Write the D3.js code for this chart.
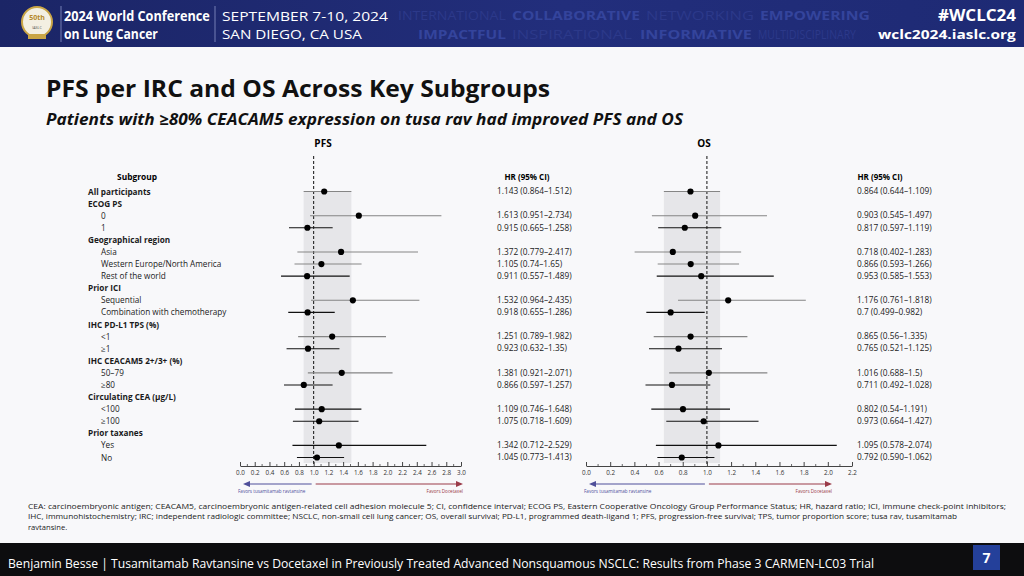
<!DOCTYPE html>
<html>
<head>
<meta charset="utf-8">
<script src="https://cdn.jsdelivr.net/npm/d3@7"></script>
<style>
  html, body { margin: 0; padding: 0; background: #f8f8fa; }
  svg { display: block; }
</style>
</head>
<body>
<div id="slide"></div>
<script>
// subgroup rows, top to bottom (level 0 = bold heading)
const rowLabels = ["All participants", "ECOG PS", "0", "1", "Geographical region", "Asia",
  "Western Europe/North America", "Rest of the world", "Prior ICI", "Sequential",
  "Combination with chemotherapy", "IHC PD-L1 TPS (%)", "<1", "≥1", "IHC CEACAM5 2+/3+ (%)",
  "50–79", "≥80", "Circulating CEA (μg/L)", "<100", "≥100", "Prior taxanes", "Yes", "No"];
const rowLevel = [0, 0, 1, 1, 0, 1, 1, 1, 0, 1, 1, 0, 1, 1, 0, 1, 1, 0, 1, 1, 0, 1, 1];
// lighter whisker rows in the picture
const rowTone = ["g", "", "g", "k", "", "g", "g", "k", "", "g", "k", "", "g", "k", "", "g", "k", "", "k", "k", "", "k", "k"];

// PFS per IRC
const pfsHR = [1.143, null, 1.613, 0.915, null, 1.372, 1.105, 0.911, null, 1.532, 0.918, null, 1.251, 0.923, null, 1.381, 0.866, null, 1.109, 1.075, null, 1.342, 1.045];
const pfsLo = [0.864, null, 0.951, 0.665, null, 0.779, 0.74, 0.557, null, 0.964, 0.655, null, 0.789, 0.632, null, 0.921, 0.597, null, 0.746, 0.718, null, 0.712, 0.773];
const pfsHi = [1.512, null, 2.734, 1.258, null, 2.417, 1.65, 1.489, null, 2.435, 1.286, null, 1.982, 1.35, null, 2.071, 1.257, null, 1.648, 1.609, null, 2.529, 1.413];
const pfsText = ["1.143 (0.864–1.512)", "", "1.613 (0.951–2.734)", "0.915 (0.665–1.258)", "",
  "1.372 (0.779–2.417)", "1.105 (0.74–1.65)", "0.911 (0.557–1.489)", "", "1.532 (0.964–2.435)",
  "0.918 (0.655–1.286)", "", "1.251 (0.789–1.982)", "0.923 (0.632–1.35)", "", "1.381 (0.921–2.071)",
  "0.866 (0.597–1.257)", "", "1.109 (0.746–1.648)", "1.075 (0.718–1.609)", "", "1.342 (0.712–2.529)",
  "1.045 (0.773–1.413)"];

// OS
const osHR = [0.864, null, 0.903, 0.817, null, 0.718, 0.866, 0.953, null, 1.176, 0.7, null, 0.865, 0.765, null, 1.016, 0.711, null, 0.802, 0.973, null, 1.095, 0.792];
const osLo = [0.644, null, 0.545, 0.597, null, 0.402, 0.593, 0.585, null, 0.761, 0.499, null, 0.56, 0.521, null, 0.688, 0.492, null, 0.54, 0.664, null, 0.578, 0.590];
const osHi = [1.109, null, 1.497, 1.119, null, 1.283, 1.266, 1.553, null, 1.818, 0.982, null, 1.335, 1.125, null, 1.5, 1.028, null, 1.191, 1.427, null, 2.074, 1.062];
const osText = ["0.864 (0.644–1.109)", "", "0.903 (0.545–1.497)", "0.817 (0.597–1.119)", "",
  "0.718 (0.402–1.283)", "0.866 (0.593–1.266)", "0.953 (0.585–1.553)", "", "1.176 (0.761–1.818)",
  "0.7 (0.499–0.982)", "", "0.865 (0.56–1.335)", "0.765 (0.521–1.125)", "", "1.016 (0.688–1.5)",
  "0.711 (0.492–1.028)", "", "0.802 (0.54–1.191)", "0.973 (0.664–1.427)", "", "1.095 (0.578–2.074)",
  "0.792 (0.590–1.062)"];

const pfsTicks = d3.range(0, 3.01, 0.2);
const osTicks = d3.range(0, 2.21, 0.2);

const footnote = [
  "CEA: carcinoembryonic antigen; CEACAM5, carcinoembryonic antigen-related cell adhesion molecule 5; CI, confidence interval; ECOG PS, Eastern Cooperative Oncology Group Performance Status; HR, hazard ratio; ICI, immune check-point inhibitors;",
  "IHC, immunohistochemistry; IRC; independent radiologic committee; NSCLC, non-small cell lung cancer; OS, overall survival; PD-L1, programmed death-ligand 1; PFS, progression-free survival; TPS, tumor proportion score; tusa rav, tusamitamab",
  "ravtansine."
];

const width = 1024, height = 576;
const sans = "'Open Sans', 'Noto Sans', sans-serif";

const svg = d3.select("#slide").append("svg")
    .attr("width", width)
    .attr("height", height)
    .style("font-family", sans);

svg.append("rect").attr("width", width).attr("height", height).attr("fill", "#f8f8fa");

// ---- conference banner ----
const defs = svg.append("defs");
const grad = defs.append("linearGradient").attr("id", "bannerGrad");
grad.append("stop").attr("offset", "0%").attr("stop-color", "#1b2566");
grad.append("stop").attr("offset", "55%").attr("stop-color", "#222e7c");
grad.append("stop").attr("offset", "100%").attr("stop-color", "#1e2a74");

const banner = svg.append("g");
banner.append("rect").attr("width", width).attr("height", 47).attr("fill", "url(#bannerGrad)");

// squeeze a text horizontally so it spans w pixels
const squeeze = (sel, x, y, w, anchor) => sel.each(function () {
  const natural = this.getComputedTextLength();
  const k = w / natural;
  d3.select(this).attr("x", 0).attr("y", 0)
      .attr("transform", `translate(${anchor === "end" ? x - w : x},${y}) scale(${k},1)`);
});

// background slogan words, kept clear of the white banner text
const faintWords = [
  { t: "INTERNATIONAL", x: 398, y: 20, w: 108, b: false },
  { t: "COLLABORATIVE", x: 512, y: 20, w: 128, b: true },
  { t: "NETWORKING", x: 646, y: 20, w: 108, b: false },
  { t: "EMPOWERING", x: 760, y: 20, w: 110, b: true },
  { t: "IMPACTFUL", x: 418, y: 39, w: 88, b: true },
  { t: "INSPIRATIONAL", x: 512, y: 39, w: 120, b: false },
  { t: "INFORMATIVE", x: 640, y: 39, w: 112, b: true },
  { t: "MULTIDISCIPLINARY", x: 758, y: 39, w: 98, b: false }
];
banner.selectAll("text.faint")
  .data(faintWords)
  .join("text")
    .attr("class", "faint")
    .attr("font-size", 13)
    .attr("font-weight", d => d.b ? "bold" : "normal")
    .attr("fill", d => d.b ? "#34449c" : "#2c398a")
    .text(d => d.t)
    .each(function (d) { squeeze(d3.select(this), d.x, d.y, d.w); });

// logo
banner.append("circle").attr("cx", 37).attr("cy", 22).attr("r", 15).attr("fill", "#f3efe2").attr("stroke", "#c9a546").attr("stroke-width", 2);
banner.append("text").attr("x", 37).attr("y", 20).attr("text-anchor", "middle").attr("font-size", 7).attr("font-weight", "bold").attr("fill", "#b58a2a").text("50th");
banner.append("text").attr("x", 37).attr("y", 29).attr("text-anchor", "middle").attr("font-size", 3.6).attr("fill", "#555").text("IASLC");
banner.append("rect").attr("x", 28).attr("y", 34).attr("width", 18).attr("height", 5).attr("fill", "#c9a546");

banner.append("line").attr("x1", 61).attr("x2", 61).attr("y1", 6).attr("y2", 42).attr("stroke", "#8c95c8").attr("stroke-width", 0.8);
banner.append("line").attr("x1", 215).attr("x2", 215).attr("y1", 6).attr("y2", 42).attr("stroke", "#8c95c8").attr("stroke-width", 0.8);

const bannerText = (t, x, y, size, w, weight, anchor) =>
  banner.append("text")
      .attr("font-size", size).attr("font-weight", weight).attr("fill", "#fff")
      .text(t)
      .call(squeeze, x, y, w, anchor);
bannerText("2024 World Conference", 64, 21, 14, 146, "bold");
bannerText("on Lung Cancer", 64, 39, 14, 94, "bold");
bannerText("SEPTEMBER 7-10, 2024", 222, 21, 13, 166, "normal");
bannerText("SAN DIEGO, CA USA", 222, 39, 13, 140, "normal");
bannerText("#WCLC24", 1016, 21, 16, 78, "bold", "end");
bannerText("wclc2024.iaslc.org", 1016, 39, 13, 138, "bold", "end");

// ---- titles ----
svg.append("text").attr("x", 46).attr("y", 97)
    .attr("font-size", 23).attr("font-weight", "bold").attr("fill", "#111")
    .attr("textLength", 504).attr("lengthAdjust", "spacingAndGlyphs")
    .text("PFS per IRC and OS Across Key Subgroups");
svg.append("text").attr("x", 46).attr("y", 125)
    .attr("font-size", 15.5).attr("font-weight", "bold").attr("font-style", "italic").attr("fill", "#111")
    .attr("textLength", 637).attr("lengthAdjust", "spacingAndGlyphs")
    .text("Patients with ≥80% CEACAM5 expression on tusa rav had improved PFS and OS");

// ---- forest table ----
const y = d3.scaleLinear().domain([0, rowLabels.length - 1]).range([191.5, 457.5]);
const xP = d3.scaleLinear().domain([0, 3]).range([240, 461]);
const xO = d3.scaleLinear().domain([0, 2.2]).range([586, 852]);
const axisY = 466;

svg.append("text").attr("x", 323).attr("y", 147).attr("text-anchor", "middle")
    .attr("font-size", 10).attr("font-weight", "bold").text("PFS");
svg.append("text").attr("x", 704).attr("y", 147).attr("text-anchor", "middle")
    .attr("font-size", 10).attr("font-weight", "bold").text("OS");

svg.append("text").attr("x", 137).attr("y", 180).attr("text-anchor", "middle")
    .attr("font-size", 8.4).attr("font-weight", "bold").text("Subgroup");
svg.append("text").attr("x", 527).attr("y", 180).attr("text-anchor", "middle")
    .attr("font-size", 8).attr("font-weight", "bold").text("HR (95% CI)");
svg.append("text").attr("x", 880).attr("y", 180).attr("text-anchor", "middle")
    .attr("font-size", 8).attr("font-weight", "bold").text("HR (95% CI)");

svg.append("g")
  .selectAll("text")
  .data(rowLabels)
  .join("text")
    .attr("x", (d, i) => rowLevel[i] ? 101 : 88)
    .attr("y", (d, i) => y(i) + 3)
    .attr("font-size", 8.2)
    .attr("font-weight", (d, i) => rowLevel[i] ? "normal" : "bold")
    .attr("fill", "#1a1a1a")
    .text(d => d);

const panel = (x, hr, lo, hi, txt, textX, ticks, refEnd) => {
  const g = svg.append("g");
  const rows = d3.range(rowLabels.length).filter(i => hr[i] != null);

  // overall CI band
  g.append("rect")
      .attr("x", x(lo[0])).attr("width", x(hi[0]) - x(lo[0]))
      .attr("y", y(0)).attr("height", axisY - 3 - y(0))
      .attr("fill", "#e6e6e9");

  // null line
  g.append("line")
      .attr("x1", x(1)).attr("x2", x(1))
      .attr("y1", 156).attr("y2", axisY)
      .attr("stroke", "#111").attr("stroke-width", 1)
      .attr("stroke-dasharray", "3,2");

  g.selectAll("line.ci")
    .data(rows)
    .join("line")
      .attr("class", "ci")
      .attr("x1", i => x(lo[i])).attr("x2", i => x(Math.min(hi[i], x.domain()[1])))
      .attr("y1", i => y(i)).attr("y2", i => y(i))
      .attr("stroke", i => rowTone[i] === "g" ? "#858585" : "#111")
      .attr("stroke-width", 1.1);

  g.selectAll("circle")
    .data(rows)
    .join("circle")
      .attr("cx", i => x(hr[i])).attr("cy", i => y(i))
      .attr("r", 3.1).attr("fill", "#000");

  g.selectAll("text.hr")
    .data(rows)
    .join("text")
      .attr("class", "hr")
      .attr("x", textX).attr("y", i => y(i) + 2.8)
      .attr("font-size", 8.3).attr("fill", "#1a1a1a")
      .text(i => txt[i]);

  // axis: major ticks every 0.2, minor every 0.1
  const minor = d3.range(0.1, x.domain()[1], 0.2);
  const ax = g.append("g").attr("transform", `translate(0,${axisY})`)
      .call(d3.axisBottom(x).tickValues(ticks).tickSizeInner(-4).tickSizeOuter(0).tickPadding(5)
        .tickFormat(d3.format(".1f")));
  ax.select(".domain").attr("stroke", "#444");
  ax.selectAll(".tick line").attr("stroke", "#444");
  ax.selectAll(".tick text").attr("font-size", 6.3).attr("fill", "#333").attr("font-family", sans);
  g.append("g").selectAll("line")
    .data(minor)
    .join("line")
      .attr("x1", d => x(d)).attr("x2", d => x(d))
      .attr("y1", axisY).attr("y2", axisY - 2)
      .attr("stroke", "#444").attr("stroke-width", 0.8);

  // favours arrows
  const ay = 484;
  g.append("line").attr("x1", x(1) - 2).attr("x2", x(0) + 10).attr("y1", ay).attr("y2", ay)
      .attr("stroke", "#4f4f9a").attr("stroke-width", 1);
  g.append("path").attr("d", `M${x(0) + 3},${ay} l7,-3 l0,6 z`).attr("fill", "#4f4f9a");
  g.append("line").attr("x1", x(1) + 2).attr("x2", refEnd - 7).attr("y1", ay).attr("y2", ay)
      .attr("stroke", "#9a3a48").attr("stroke-width", 1);
  g.append("path").attr("d", `M${refEnd},${ay} l-7,-3 l0,6 z`).attr("fill", "#9a3a48");
  g.append("text").attr("x", x(0) - 2).attr("y", 493).attr("font-size", 4.6).attr("fill", "#4f4f9a")
      .text("Favors tusamitamab ravtansine");
  g.append("text").attr("x", refEnd).attr("y", 493).attr("text-anchor", "end").attr("font-size", 4.6).attr("fill", "#9a3a48")
      .text("Favors Docetaxel");
};

panel(xP, pfsHR, pfsLo, pfsHi, pfsText, 497, pfsTicks, 463);
panel(xO, osHR, osLo, osHi, osText, 857, osTicks, 832);

// ---- footnote ----
const footLen = [978, 929, null];
svg.append("g")
  .selectAll("text")
  .data(footnote)
  .join("text")
    .attr("x", 28)
    .attr("y", (d, i) => 509 + i * 10.3)
    .attr("font-size", 7.6)
    .attr("fill", "#1a1a1a")
    .attr("textLength", (d, i) => footLen[i])
    .attr("lengthAdjust", "spacingAndGlyphs")
    .text(d => d);

// ---- footer ----
svg.append("rect").attr("x", 0).attr("y", 543).attr("width", width).attr("height", 33).attr("fill", "#0d0d0f");
svg.append("text").attr("x", 8).attr("y", 568)
    .attr("font-size", 13.5).attr("fill", "#fff")
    .attr("textLength", 866).attr("lengthAdjust", "spacingAndGlyphs")
    .text("Benjamin Besse | Tusamitamab Ravtansine vs Docetaxel  in Previously Treated Advanced Nonsquamous NSCLC: Results from Phase 3 CARMEN-LC03 Trial");
svg.append("rect").attr("x", 973).attr("y", 545).attr("width", 27).attr("height", 25).attr("fill", "#24409a");
svg.append("text").attr("x", 986.5).attr("y", 563).attr("text-anchor", "middle")
    .attr("font-size", 14).attr("font-weight", "bold").attr("fill", "#fff").text("7");
</script>
</body>
</html>
